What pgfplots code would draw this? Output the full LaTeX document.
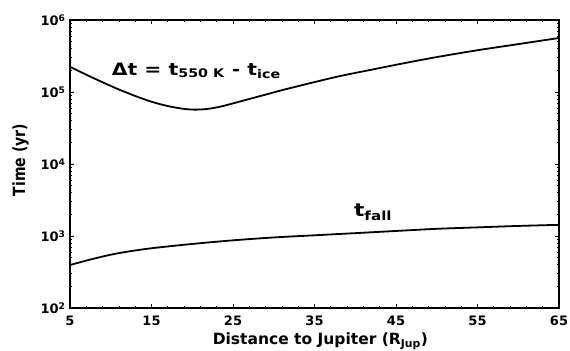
\documentclass[border=0pt]{standalone}
\usepackage{fontspec}
\setmainfont{DejaVu Sans}
\usepackage{graphicx}
\usepackage{pgfplots}
\pgfplotsset{compat=1.18}
\newcommand\sx[1]{\scalebox{1.2}[1]{#1}}
\begin{document}
\begin{tikzpicture}
\begin{axis}[name=ax, at={(0,0)}, anchor=south west,
  scale only axis, width=489pt, height=288pt,
  xmin=5, xmax=65, ymode=log, ymin=100, ymax=1e6,
  xtick={5,15,25,35,45,55,65}, minor x tick num=4,
  xticklabels={5,15,25,35,45,55,65},
  ytick={100,1000,10000,100000,1000000},
  yticklabels={10\textsuperscript{2},10\textsuperscript{3},10\textsuperscript{4},10\textsuperscript{5},10\textsuperscript{6}},
  tick align=inside,
  axis line style={line width=1.2pt},
  every tick/.style={black, line width=0.8pt},
  major tick length=4pt, minor tick length=2.5pt,
  tick label style={font=\bfseries\fontsize{13}{15}\selectfont},
  xticklabel style={yshift=-4pt},
  yticklabel style={xshift=-1pt},
  xlabel={Distance to Jupiter (R\textsubscript{Jup})},
  ylabel={\scalebox{1}[1.2]{Time (yr)}},
  xlabel style={font=\bfseries\fontsize{15.5}{17}\selectfont, at={(axis description cs:0.512,-0.128)}, anchor=base},
  ylabel style={font=\bfseries\fontsize{14}{16}\selectfont, at={(axis description cs:-0.092,0.514)}, anchor=base},
]
\addplot[smooth, line width=1.8pt, black] coordinates {
(5,223900) (7,173800) (9,136500) (11,108400) (13,88100) (15,73300) (17,63800) (19,58200) (20.5,56900) (22,58500) (23.5,62800) (25,69500) (27,80000) (29,92000) (31,105900) (34,128800) (38,165200) (42,204200) (46,251200) (50,305500) (55,380200) (60,462400) (65,562300)
};
\addplot[smooth, line width=1.8pt, black] coordinates {
(5,395) (6,425) (8,487) (10,550) (12,605) (15,676) (20,776) (25,871) (30,955) (35,1023) (40,1096) (45,1175) (50,1259) (55,1318) (60,1380) (65,1429)
};
\node[anchor=base, font=\bfseries\fontsize{17}{19}\selectfont] at (axis cs:20.5,172000) {\sx{Δt = t\textsubscript{550 K} - t\textsubscript{ice}}};
\node[anchor=base, font=\bfseries\fontsize{18}{20}\selectfont] at (axis cs:42.2,1840) {\sx{t\textsubscript{fall}}};
\end{axis}
\pgfresetboundingbox
\path[use as bounding box] ([shift={(-70pt,-42pt)}]ax.south west) rectangle ([shift={(11pt,20pt)}]ax.north east);
\end{tikzpicture}
\end{document}
